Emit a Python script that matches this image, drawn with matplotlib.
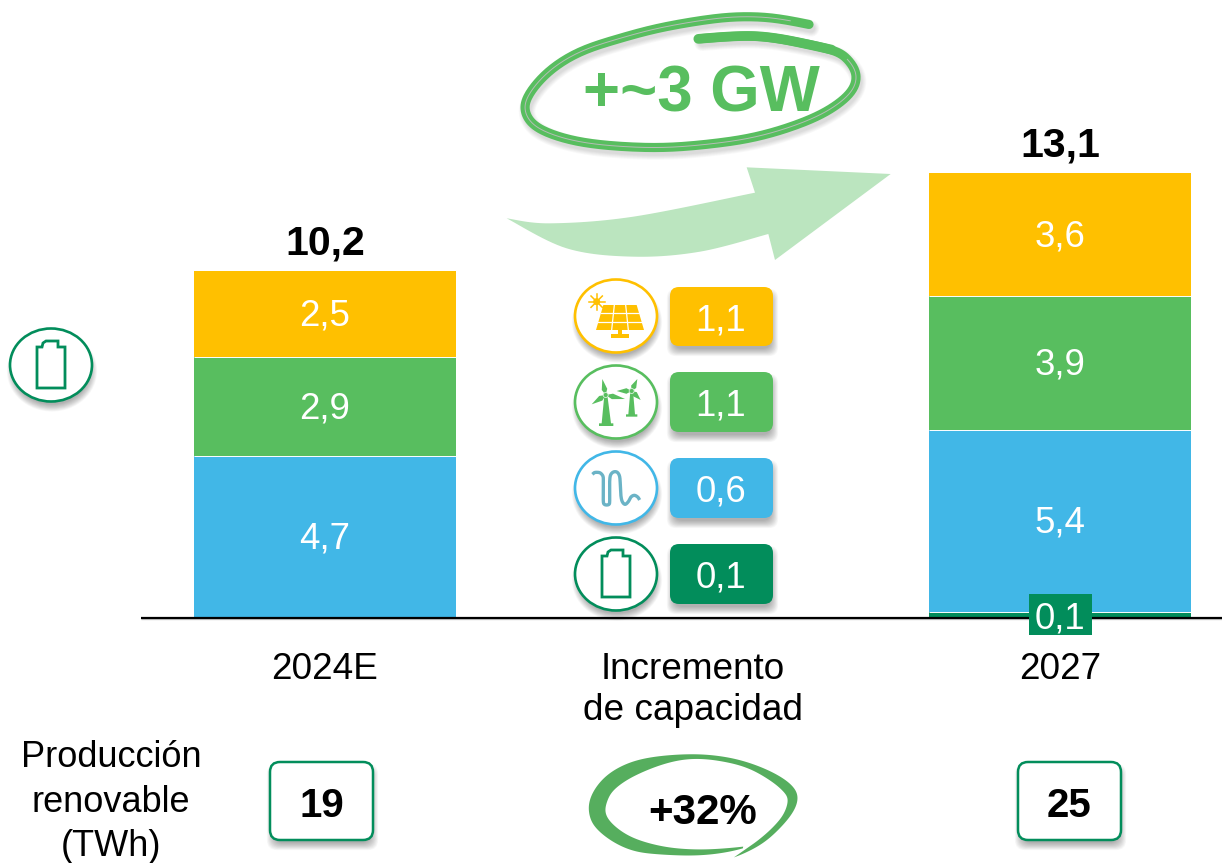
import numpy as np
import matplotlib
matplotlib.use("Agg")
import matplotlib.pyplot as plt
from matplotlib.patches import Ellipse, FancyBboxPatch, Polygon, Rectangle

plt.rcParams['font.family'] = ['Liberation Sans', 'DejaVu Sans']

### dane
lata = ["2024E", "Incremento\nde capacidad", "2027"]
pozycje = [0, 2]
bateria = [0.0, 0.15]
geotermia = [4.74, 5.36]
wiatr = [2.93, 3.94]
slonce = [2.53, 3.64]
sumy = ["10,2", "13,1"]
bateria_etykieta = "0,1"
przyrost_etykiety = ["1,1", "1,1", "0,6", "0,1"]
produkcja = ["19", "25"]
produkcja_tytul = "Producción\nrenovable\n(TWh)"
przyrost_gw = "+~3 GW"
przyrost_proc = "+32%"

ZOLTY = "#FFC000"
ZIELONY = "#58BE5F"
NIEBIESKI = "#41B7E7"
CIEMNY = "#028D5B"
JASNY = "#BBE5BF"
GEO = "#6BB3C6"
SWOOSH = "#56AE5E"

W, H = 1222, 863
fig = plt.figure(figsize=(W / 100, H / 100), dpi=100)

### warstwa pikselowa pod ikony i opisy
px = fig.add_axes([0, 0, 1, 1], zorder=2)
px.set_xlim(0, W)
px.set_ylim(H, 0)
px.axis("off")
px.patch.set_alpha(0)

### wykres slupkowy
skala = 33.95
baza = 617
szer = 0.713
ax = fig.add_axes([141 / W, (H - baza) / H, (W - 141) / W, baza / H], zorder=1)
ax.set_xlim((141 - 325) / 367.5, (W - 325) / 367.5)
ax.set_ylim(0, baza / skala)
ax.axis("off")

dol = np.zeros(2)
for wart, kolor in [(bateria, CIEMNY), (geotermia, NIEBIESKI), (wiatr, ZIELONY), (slonce, ZOLTY)]:
    ax.bar(pozycje, wart, szer, bottom=dol, color=kolor, edgecolor="none")
    for x, w, d in zip(pozycje, wart, dol):
        if kolor != CIEMNY:
            ax.text(x, d + w / 2 + 0.05, f"{w:.1f}".replace(".", ","), color="white", fontsize=26.4,
                    ha="center", va="center_baseline")
            if d > 0:
                ax.plot([x - szer / 2, x + szer / 2], [d, d], color="white", lw=0.7, zorder=3, solid_capstyle="butt")
    dol = dol + np.array(wart)

for x, s, d in zip(pozycje, sumy, dol):
    ax.text(x, d + 0.24, s, fontsize=29.5, fontweight="bold", ha="center", va="bottom")


def krzywa(punkty, n=14, wyg=0):
    # gladka krzywa przez punkty (Catmull-Rom), wyg = dodatkowe wygladzenie
    p = np.array(punkty, dtype=float)
    p = np.vstack([p[0], p, p[-1]])
    wynik = []
    for i in range(1, len(p) - 2):
        for t in np.linspace(0, 1, n, endpoint=False):
            wynik.append(0.5 * (2 * p[i] + (p[i + 1] - p[i - 1]) * t
                                + (2 * p[i - 1] - 5 * p[i] + 4 * p[i + 1] - p[i + 2]) * t ** 2
                                + (3 * p[i] - p[i - 1] - 3 * p[i + 1] + p[i + 2]) * t ** 3))
    wynik.append(p[-2])
    wynik = np.array(wynik)
    if wyg:
        okno = np.ones(wyg) / wyg
        pad = np.vstack([np.repeat(wynik[:1], wyg, axis=0), wynik, np.repeat(wynik[-1:], wyg, axis=0)])
        wynik = np.column_stack([np.convolve(pad[:, 0], okno, "same"), np.convolve(pad[:, 1], okno, "same")])[wyg:-wyg]
    return wynik


def zoom1(pts):
    return [(500 + x / 3, y / 3) for x, y in pts]


def zoom2(pts):
    return [(560 + x / 3, 270 + y / 3) for x, y in pts]


def zoom3(pts):
    return [(570 + x / 3, 750 + y / 3) for x, y in pts]


def zoom7(pts):
    return [(575 + x / 3, 365 + y / 3) for x, y in pts]


def cien(patch_fn, warstwy=14, alfa=0.022):
    # miekki cien z kilku warstw
    for i in range(warstwy):
        patch_fn(-6 + i * 1.1, alfa)


px.plot([141, W], [619, 619], color="#999999", lw=1, alpha=0.5, zorder=2, solid_capstyle="butt")
px.plot([141, W], [617.5, 617.5], color="black", lw=1.6, zorder=3, solid_capstyle="butt")


def pudelko(x0, y0, x1, y1, r, kolor, brzeg=None):
    def sz(g, a):
        px.add_patch(FancyBboxPatch((x0 + 1 - g / 2, y0 + 6 - g / 2), x1 - x0 + g, y1 - y0 + g,
                                    boxstyle=f"round,pad=0,rounding_size={r}", fc="black", ec="none",
                                    alpha=a, zorder=4))
    cien(sz)
    px.add_patch(FancyBboxPatch((x0, y0), x1 - x0, y1 - y0, boxstyle=f"round,pad=0,rounding_size={r}",
                                fc=kolor, ec=brzeg if brzeg else "none", lw=1.8, zorder=5))


def kolko(cx, cy, kolor):
    def sz(g, a):
        px.add_patch(Ellipse((cx + 1, cy + 6), 82 + g, 73 + g, fc="black", ec="none", alpha=a, zorder=4))
    cien(sz)
    px.add_patch(Ellipse((cx, cy), 82, 73, fc="white", ec=kolor, lw=1.9, zorder=5))


def bateria_ikona(cx, cy):
    # cy = srodek kolka
    d = [(-14, 23), (-14, -18), (-9, -18), (-8, -22), (-5, -24), (7, -24), (7, -18), (14, -18), (14, 23)]
    px.add_patch(Polygon([(cx + a, cy + b) for a, b in d], closed=True, fc="white", ec=CIEMNY, lw=2,
                         joinstyle="miter", zorder=6))


def slonce_ikona():
    kolor = ZOLTY
    panel = zoom2([(130, 105), (230, 105), (252, 180), (108, 180)])
    px.add_patch(Polygon(panel, closed=True, fc=kolor, ec="none", zorder=6))
    for a, b in [((163, 105), (155, 180)), ((197, 105), (205, 180)),
                 ((122, 130), (238, 130)), ((115, 155), (245, 155))]:
        l = zoom2([a, b])
        px.plot([l[0][0], l[1][0]], [l[0][1], l[1][1]], color="white", lw=0.9, zorder=7)
    px.add_patch(Rectangle(zoom2([(175, 180)])[0], 3.5, 5, fc=kolor, ec="none", zorder=6))
    px.add_patch(Rectangle(zoom2([(153, 192)])[0], 18, 3.6, fc=kolor, ec="none", zorder=6))
    sx, sy = zoom2([(110, 95)])[0]
    px.add_patch(Ellipse((sx, sy), 7, 7, fc=kolor, ec="none", zorder=6))
    for k in np.deg2rad(np.arange(0, 360, 45)):
        px.plot([sx, sx + 8 * np.cos(k)], [sy, sy + 8 * np.sin(k)], color=kolor, lw=1.1, zorder=6)


def turbina(piasta, lopaty, wieza):
    h = np.array(zoom7([piasta])[0])
    px.add_patch(Polygon(zoom7(wieza), closed=True, fc=ZIELONY, ec="none", zorder=6))
    for l in zoom7(lopaty):
        kier = np.array(l) - h
        n = np.array([-kier[1], kier[0]]) / np.linalg.norm(kier) * 2.8
        px.add_patch(Polygon([h, h + 0.35 * kier + n, l, h + 0.35 * kier - n], closed=True, fc=ZIELONY, ec="none", zorder=6))
    px.add_patch(Ellipse(h, 5, 5, fc=ZIELONY, ec="#DDF2DF", lw=0.6, zorder=7))


def geotermia_ikona():
    l = krzywa(zoom7([(52, 328), (58, 323), (66, 322), (76, 324), (84, 334), (85, 350), (85, 380), (85, 410),
                      (88, 418), (95, 420), (102, 418), (104, 410), (104, 380), (104, 350), (106, 332), (112, 323),
                      (120, 320), (128, 323), (134, 335), (136, 360), (137, 385), (141, 408), (150, 418),
                      (160, 410), (168, 396), (178, 391), (188, 396), (194, 405)]), wyg=3)
    px.plot(l[:, 0], l[:, 1], color=GEO, lw=2.4, zorder=6, solid_capstyle="butt")


### ikony i wartosci przyrostu
wiersze = [(316, 287, 346, ZOLTY), (402, 372, 432, ZIELONY), (488, 458, 518, NIEBIESKI), (574, 544, 604, CIEMNY)]
for (cy, y0, y1, kol), tekst in zip(wiersze, przyrost_etykiety):
    kolko(616, cy, kol)
    pudelko(670, y0, 773, y1, 9, kol)
    px.text(721, (y0 + y1) / 2, tekst, color="white", fontsize=26.4, ha="center", va="center_baseline", zorder=7)

slonce_ikona()
turbina((92, 90), [(82, 42), (50, 118), (150, 102)],
        [(88, 90), (97, 90), (108, 175), (115, 175), (115, 183), (72, 183), (72, 175), (80, 175)])
turbina((170, 78), [(187, 42), (125, 78), (197, 105)],
        [(166, 78), (174, 78), (180, 148), (187, 148), (187, 155), (153, 155), (153, 148), (160, 148)])
geotermia_ikona()
bateria_ikona(616, 574)

kolko(51, 365, CIEMNY)
bateria_ikona(51, 365)

### strzalka
gora = krzywa(zoom1([(20, 655), (150, 670), (400, 650), (765, 578)]))
glowa = zoom1([(740, 502), (1172, 522), (825, 780), (805, 702)])
dolna = krzywa(zoom1([(805, 702), (600, 755), (400, 770), (200, 745), (20, 655)]))
px.add_patch(Polygon(np.vstack([gora, glowa, dolna]), closed=True, fc=JASNY, ec="none", zorder=3))

### elipsa +~3 GW
elipsa = krzywa(zoom1([(935, 75), (870, 62), (800, 52), (725, 50), (650, 55), (550, 70), (450, 90), (350, 118),
                       (250, 150), (170, 195), (115, 245), (80, 295), (75, 335), (100, 375), (160, 405),
                       (250, 428), (370, 440), (500, 443), (630, 432), (750, 415), (860, 385), (950, 350),
                       (1010, 315), (1050, 280), (1068, 245), (1065, 210), (1040, 175), (1000, 150),
                       (900, 128), (830, 115), (760, 108), (680, 110), (590, 117)]), wyg=17)
for i in range(6):
    px.plot(elipsa[:, 0] + 2, elipsa[:, 1] + 4, color="black", alpha=0.025, lw=6 + i * 1.2, zorder=3, solid_capstyle="round")
px.plot(elipsa[:, 0], elipsa[:, 1], color=ZIELONY, lw=6.6, zorder=4, solid_capstyle="round")
px.plot(elipsa[14:14 * 26, 0], elipsa[14:14 * 26, 1], color="#B5BDB6", lw=0.7, zorder=5)
koncowka = krzywa(zoom1([(590, 117), (680, 110), (760, 108), (830, 115), (900, 128), (1000, 150)]), wyg=9)
px.plot(koncowka[:, 0], koncowka[:, 1], color=ZIELONY, lw=7, zorder=5, solid_capstyle="round")
px.text(701, 88, przyrost_gw, color=ZIELONY, fontsize=45.8, fontweight="bold", ha="center", va="center_baseline", zorder=6)

### opisy osi
for x, t in zip([325, 693, 1060], lata):
    if "\n" in t:
        px.text(x, 690, t, fontsize=26.6, ha="center", va="center", linespacing=1.2, zorder=6)
    else:
        px.text(x, 669, t, fontsize=26.6, ha="center", va="center", zorder=6)

### etykieta 0,1 na slupku 2027
px.add_patch(Rectangle((1029, 594), 63, 41, fc=CIEMNY, ec="none", zorder=6))
px.text(1060, 615, bateria_etykieta, color="white", fontsize=26.4, ha="center", va="center_baseline", zorder=7)

### produkcja
px.text(111, 802, produkcja_tytul, fontsize=26, ha="center", va="center", linespacing=1.36, zorder=6)
for x0, t in zip([270, 1018], produkcja):
    pudelko(x0, 762, x0 + 103, 840, 10, "white", CIEMNY)
    px.text(x0 + 51.5, 802, t, fontsize=29, fontweight="bold", ha="center", va="center_baseline", zorder=7)

### elipsa +32%
a = krzywa(zoom3([(535, 288), (440, 298), (350, 298), (280, 290), (220, 275), (170, 255), (130, 225), (110, 200),
                  (105, 175), (115, 145), (130, 120), (170, 90), (220, 65), (300, 35), (380, 25), (450, 33),
                  (520, 48), (575, 75), (620, 105), (645, 130), (655, 150), (645, 185), (625, 215), (585, 255),
                  (545, 285)]), wyg=21)
b = krzywa(zoom3([(478, 327), (560, 295), (620, 245), (665, 195), (685, 150), (675, 115), (640, 85), (590, 58), (520, 32),
                  (450, 18), (380, 12), (300, 15), (220, 25), (160, 45), (110, 75), (75, 115), (55, 160),
                  (60, 205), (85, 245), (160, 295), (230, 310), (300, 315), (430, 317), (535, 290)]), wyg=21)
px.add_patch(Polygon(np.vstack([a, b]), closed=True, fc=SWOOSH, ec="none", zorder=5))
px.text(703, 808, przyrost_proc, fontsize=30.3, fontweight="bold", ha="center", va="center_baseline", zorder=6)

fig.savefig("out.png", dpi=100)
